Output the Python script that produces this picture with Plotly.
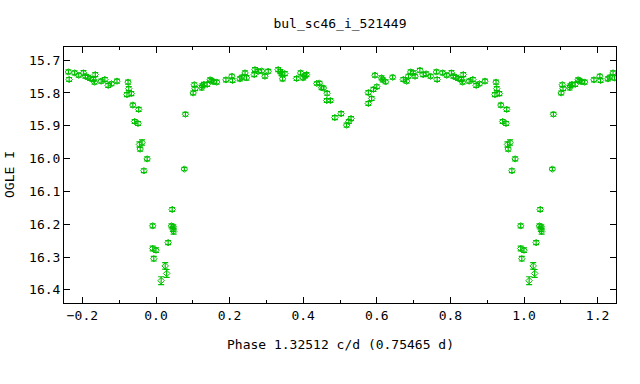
import plotly.graph_objects as go

# Base phased observations in [0, 1)
phase = [0.000, 0.014, 0.025, 0.029, 0.033, 0.042, 0.044, 0.046, 0.048, 0.047,
         0.077, 0.080, 0.101, 0.104, 0.106, 0.124, 0.126, 0.130, 0.139, 0.147,
         0.151, 0.156, 0.165, 0.190, 0.206, 0.208, 0.228, 0.233, 0.242, 0.246,
         0.267, 0.269, 0.278, 0.287, 0.296, 0.305, 0.332, 0.338, 0.341, 0.344,
         0.350, 0.382, 0.393, 0.400, 0.405, 0.409, 0.437, 0.444, 0.450, 0.455,
         0.465, 0.464, 0.474, 0.486, 0.503, 0.518, 0.524, 0.530, 0.577, 0.577,
         0.586, 0.591, 0.600, 0.595, 0.613, 0.616, 0.624, 0.643, 0.672, 0.681,
         0.686, 0.692, 0.699, 0.704, 0.717, 0.726, 0.734, 0.746, 0.762, 0.764,
         0.779, 0.790, 0.803, 0.808, 0.815, 0.821, 0.830, 0.835, 0.833, 0.851,
         0.861, 0.870, 0.879, 0.894, 0.924, 0.926, 0.921, 0.933, 0.937, 0.953,
         0.942, 0.951, 0.955, 0.962, 0.957, 0.976, 0.967, 0.991, 0.991, 0.994]
mag = [16.279, 16.372, 16.327, 16.350, 16.256, 16.205, 16.155, 16.215, 16.222, 16.208,
       16.032, 15.865, 15.800, 15.775, 15.787, 15.784, 15.778, 15.774, 15.774, 15.760,
       15.763, 15.766, 15.767, 15.760, 15.749, 15.762, 15.757, 15.752, 15.739, 15.754,
       15.744, 15.729, 15.734, 15.733, 15.749, 15.734, 15.729, 15.735, 15.741, 15.757,
       15.741, 15.756, 15.739, 15.754, 15.748, 15.744, 15.771, 15.770, 15.784, 15.785,
       15.801, 15.823, 15.823, 15.875, 15.863, 15.898, 15.887, 15.878, 15.832, 15.799,
       15.817, 15.789, 15.781, 15.746, 15.754, 15.760, 15.766, 15.752, 15.759, 15.764,
       15.749, 15.736, 15.739, 15.749, 15.731, 15.744, 15.742, 15.749, 15.736, 15.759,
       15.739, 15.746, 15.739, 15.749, 15.752, 15.756, 15.759, 15.744, 15.767, 15.764,
       15.759, 15.777, 15.772, 15.764, 15.767, 15.787, 15.805, 15.802, 15.837, 15.850,
       15.887, 15.893, 15.957, 15.951, 15.971, 16.001, 16.037, 16.205, 16.274, 16.305]
err = [0.007, 0.012, 0.010, 0.012, 0.006, 0.006, 0.006, 0.007, 0.008, 0.006,
       0.005, 0.006, 0.006, 0.006, 0.006, 0.007, 0.006, 0.006, 0.006, 0.006,
       0.006, 0.006, 0.006, 0.006, 0.006, 0.006, 0.006, 0.006, 0.006, 0.007,
       0.006, 0.006, 0.006, 0.006, 0.006, 0.006, 0.006, 0.006, 0.006, 0.006,
       0.006, 0.006, 0.006, 0.006, 0.006, 0.006, 0.005, 0.005, 0.006, 0.006,
       0.006, 0.006, 0.006, 0.006, 0.006, 0.006, 0.006, 0.006, 0.006, 0.006,
       0.006, 0.006, 0.006, 0.006, 0.006, 0.006, 0.006, 0.006, 0.006, 0.006,
       0.006, 0.006, 0.006, 0.006, 0.006, 0.006, 0.006, 0.006, 0.006, 0.006,
       0.006, 0.006, 0.007, 0.006, 0.006, 0.006, 0.006, 0.006, 0.006, 0.006,
       0.006, 0.006, 0.006, 0.006, 0.006, 0.006, 0.006, 0.006, 0.006, 0.006,
       0.006, 0.006, 0.008, 0.008, 0.006, 0.006, 0.006, 0.006, 0.007, 0.007]

# Fold/duplicate: show phases -0.25..1.25
xs, ys, es = [], [], []
for p, m, e in zip(phase, mag, err):
    xs.append(p); ys.append(m); es.append(e)
    if p >= 0.75:
        xs.append(p - 1); ys.append(m); es.append(e)
    if p <= 0.25:
        xs.append(p + 1); ys.append(m); es.append(e)

green = "#00C000"
font_family = "DejaVu Sans Mono"
fnt = dict(family=font_family, size=13, color="black")

fig = go.Figure()
fig.add_trace(go.Scatter(
    x=xs, y=ys, mode="markers",
    marker=dict(symbol="diamond-open", size=5, color=green, line=dict(width=1, color=green)),
    error_y=dict(type="data", array=es, visible=True, color=green, thickness=1.2, width=3),
    showlegend=False,
))

axis_common = dict(
    showline=True, linecolor="black", linewidth=1, mirror="allticks",
    ticks="inside", tickcolor="black", ticklen=6, tickwidth=1,
    showgrid=False, zeroline=False, automargin=False,
    tickfont=fnt,
)

fig.update_layout(
    width=640, height=384,
    margin=dict(l=64, r=24, t=47, b=81),
    paper_bgcolor="white", plot_bgcolor="white",
    title=dict(text="bul_sc46_i_521449", x=340/640, xanchor="center", y=1-23/384, yanchor="middle",
               font=fnt),
    xaxis=dict(range=[-0.25, 1.25], tickmode="linear", tick0=0, dtick=0.2, tickformat=".1f",
               minor=dict(dtick=0.1, ticks="inside", ticklen=3, tickcolor="black"),
               **axis_common),
    yaxis=dict(range=[16.44, 15.66], tickmode="linear", tick0=15.7, dtick=0.1, tickformat=".1f",
               **axis_common),
    annotations=[
        dict(text="Phase 1.32512 c/d (0.75465 d)", xref="paper", yref="paper",
             x=0.5, y=-41/256, xanchor="center", yanchor="middle", showarrow=False, font=fnt),
        dict(text="OGLE I", xref="paper", yref="paper", x=-55/552, y=0.5,
             xanchor="center", yanchor="middle", textangle=-90, showarrow=False, font=fnt),
    ],
)

fig.write_html("out.html", config={"displayModeBar": False},
               post_script="document.body.style.margin='0';")
